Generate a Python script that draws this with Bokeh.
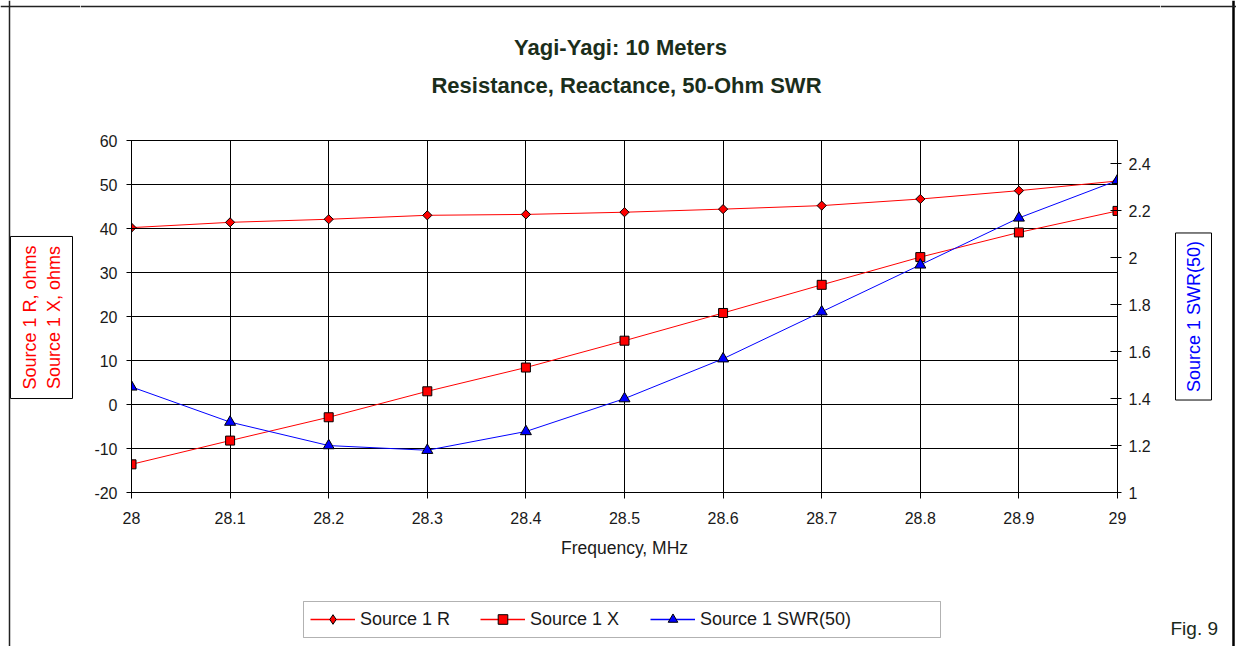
import math
from bokeh.plotting import figure
from bokeh.layouts import column, row
from bokeh.models import (Range1d, LinearAxis, FixedTicker, CustomJSTickFormatter,
                          Label, Legend, LegendItem, BoxAnnotation, Span)
from bokeh.embed import file_html
from bokeh.resources import INLINE

# ---- data ----
freq = [28.0, 28.1, 28.2, 28.3, 28.4, 28.5, 28.6, 28.7, 28.8, 28.9, 29.0]
src_r = [40.2, 41.4, 42.1, 43.0, 43.2, 43.7, 44.4, 45.2, 46.7, 48.6, 50.8]
src_x = [-13.6, -8.2, -2.9, 3.0, 8.4, 14.5, 20.8, 27.2, 33.5, 39.1, 44.0]
swr = [1.45, 1.30, 1.20, 1.18, 1.26, 1.40, 1.57, 1.77, 1.97, 2.17, 2.33]

x_ticks = [28.0, 28.1, 28.2, 28.3, 28.4, 28.5, 28.6, 28.7, 28.8, 28.9, 29.0]
left_ticks = [-20, -10, 0, 10, 20, 30, 40, 50, 60]
right_ticks = [1.0, 1.2, 1.4, 1.6, 1.8, 2.0, 2.2, 2.4]

title1 = "Yagi-Yagi: 10 Meters"
title2 = "Resistance, Reactance, 50-Ohm SWR"
left_label = "Source 1 R, ohms\nSource 1 X, ohms"
right_label = "Source 1 SWR(50)"
x_label = "Frequency, MHz"
fig_note = "Fig. 9"
names = ["Source 1 R", "Source 1 X", "Source 1 SWR(50)"]

FONT = "Liberation Sans"
TEXT = "#1a1a1a"
BORDER = "#222222"
RED, BLUE = "#ff0000", "#0000ff"
TOTAL_W, TOTAL_H = 1236, 646
TOP_H, MID_H = 120, 460
BOT_H = TOTAL_H - TOP_H - MID_H
LEFT_W, RIGHT_W = 80, 76
MAIN_W = TOTAL_W - LEFT_W - RIGHT_W
# frame edges in page pixels
FL, FR, FT, FB = 131, 1117, 140, 492


def aux_fig(w, h):
    f = figure(width=w, height=h, output_backend="svg", toolbar_location=None, title=None,
               x_range=Range1d(0, 1), y_range=Range1d(0, 1),
               x_axis_location=None, y_axis_location=None, min_border=0)
    f.xgrid.visible = False
    f.ygrid.visible = False
    f.outline_line_color = None
    f.background_fill_color = "white"
    f.border_fill_color = "white"
    return f


def vspan(f, x, w=1.5, color=BORDER):
    f.add_layout(Span(location=x, location_units="screen", dimension="height",
                      line_color=color, line_width=w))


def hspan(f, y):
    f.add_layout(Span(location=y, location_units="screen", dimension="width",
                      line_color=BORDER, line_width=1.5))


# ---------------- main chart ----------------
p = figure(width=MAIN_W, height=MID_H, output_backend="svg", toolbar_location=None, title=None,
           x_range=Range1d(28, 29), y_range=Range1d(-20, 60),
           min_border_left=FL - LEFT_W, min_border_right=LEFT_W + MAIN_W - FR,
           min_border_top=FT - TOP_H, min_border_bottom=TOP_H + MID_H - FB)
p.extra_y_ranges = {"swr": Range1d(1, 2.5)}
p.background_fill_color = "white"
p.border_fill_color = "white"
p.outline_line_color = "black"
p.outline_line_width = 1

fmt = "return String(Math.round(tick*100)/100)"


def style_axis(ax, tin, tout, standoff):
    ax.axis_line_color = "black"
    ax.major_tick_line_color = "black"
    ax.minor_tick_line_color = None
    ax.major_tick_in = tin
    ax.major_tick_out = tout
    ax.major_label_standoff = standoff
    ax.major_label_text_font = FONT
    ax.major_label_text_font_size = "16px"
    ax.major_label_text_color = TEXT
    ax.formatter = CustomJSTickFormatter(code=fmt)


p.xaxis.ticker = FixedTicker(ticks=x_ticks)
style_axis(p.xaxis[0], 0, 6, 13)
p.xaxis.axis_label = x_label
p.xaxis.axis_label_text_font = FONT
p.xaxis.axis_label_text_font_size = "17.5px"
p.xaxis.axis_label_text_font_style = "normal"
p.xaxis.axis_label_text_color = TEXT
p.xaxis.axis_label_standoff = 11

p.yaxis.ticker = FixedTicker(ticks=left_ticks)
style_axis(p.yaxis[0], 6, 5, 9)

raxis = LinearAxis(y_range_name="swr", ticker=FixedTicker(ticks=right_ticks))
style_axis(raxis, 7, 4, 7)
p.add_layout(raxis, "right")

p.xgrid.ticker = FixedTicker(ticks=x_ticks)
p.ygrid.ticker = FixedTicker(ticks=left_ticks)
for g in (p.xgrid[0], p.ygrid[0]):
    g.grid_line_color = "black"
    g.grid_line_width = 1

R_STYLE = dict(marker="square", size=6.5, angle=math.pi / 4, fill_color=RED, line_color="black", line_width=1)
X_STYLE = dict(marker="square", size=9, fill_color=RED, line_color="black", line_width=1)
S_STYLE = dict(marker="triangle", size=11, fill_color=BLUE, line_color="black", line_width=1)

p.line(freq, src_r, line_color=RED, line_width=1)
p.scatter(freq, src_r, **R_STYLE)
p.line(freq, src_x, line_color=RED, line_width=1)
p.scatter(freq, src_x, **X_STYLE)
p.line(freq, swr, line_color=BLUE, line_width=1, y_range_name="swr")
p.scatter(freq, swr, y_range_name="swr", **S_STYLE)

# ---------------- top strip: titles ----------------
top = aux_fig(MAIN_W, TOP_H)
TITLE_COLOR = "#1b2e1b"
top.add_layout(Label(x=620 - LEFT_W, y=TOP_H - 47, x_units="screen", y_units="screen", text=title1,
                     text_font=FONT, text_font_size="22px", text_font_style="bold",
                     text_color=TITLE_COLOR, text_align="center", text_baseline="middle"))
top.add_layout(Label(x=626 - LEFT_W, y=TOP_H - 85, x_units="screen", y_units="screen", text=title2,
                     text_font=FONT, text_font_size="22px", text_font_style="bold",
                     text_color=TITLE_COLOR, text_align="center", text_baseline="middle"))
hspan(top, TOP_H - 6)

# ---------------- bottom strip: legend ----------------
# legend swatches use the same series; this strip's ranges keep the marks out of view
bot = aux_fig(MAIN_W, BOT_H)
by0 = TOP_H + MID_H  # page y of the bottom strip's top edge
lr = bot.line(freq, src_r, line_color=RED, line_width=1.5)
mr = bot.scatter(freq, src_r, marker="diamond", size=10, fill_color=RED, line_color="black", line_width=1)
lx = bot.line(freq, src_x, line_color=RED, line_width=1.5)
mx = bot.scatter(freq, src_x, **X_STYLE)
ls = bot.line(freq, swr, line_color=BLUE, line_width=1.5)
ms = bot.scatter(freq, swr, **S_STYLE)
legend = Legend(items=[LegendItem(label=names[0], renderers=[lr, mr]),
                       LegendItem(label=names[1], renderers=[lx, mx]),
                       LegendItem(label=names[2], renderers=[ls, ms])],
                orientation="horizontal", location=(304 - LEFT_W, BOT_H - (637 - by0)),
                border_line_alpha=0, background_fill_alpha=0,
                label_text_font=FONT, label_text_font_size="18px", label_text_color=TEXT,
                glyph_width=45, glyph_height=24, label_standoff=5, spacing=25,
                padding=6, label_width=95, margin=0)
bot.add_layout(legend, "center")
bot.add_layout(BoxAnnotation(left=303 - LEFT_W, right=940 - LEFT_W,
                             top=BOT_H - (601 - by0), bottom=BOT_H - (637 - by0),
                             left_units="screen", right_units="screen", top_units="screen",
                             bottom_units="screen", fill_alpha=0, line_color="black", line_width=1))

# ---------------- left column: R / X axis title box ----------------
left = aux_fig(LEFT_W, TOTAL_H)
left.add_layout(Label(x=41, y=TOTAL_H - 317, x_units="screen", y_units="screen", text=left_label,
                      text_font=FONT, text_font_size="18px", text_color=RED,
                      text_align="center", text_baseline="middle", angle=90, angle_units="deg",
                      background_fill_color="white", border_line_color="black", padding=9))
vspan(left, 9)
hspan(left, TOTAL_H - 6)

# ---------------- right column: SWR axis title box and figure number ----------------
rx0 = LEFT_W + MAIN_W  # page x of the right column
right = aux_fig(RIGHT_W, TOTAL_H)
right.add_layout(Label(x=1193 - rx0, y=TOTAL_H - 316, x_units="screen", y_units="screen",
                       text=right_label, text_font=FONT, text_font_size="18px", text_color=BLUE,
                       text_align="center", text_baseline="middle", angle=90, angle_units="deg",
                       background_fill_color="white", border_line_color="black", padding=8))
right.add_layout(Label(x=1170 - rx0, y=TOTAL_H - 628, x_units="screen", y_units="screen", text=fig_note,
                       text_font=FONT, text_font_size="19px", text_color="#1a2a1a",
                       text_align="left", text_baseline="middle"))
vspan(right, 1233 - rx0, w=2.5, color="black")
hspan(right, TOTAL_H - 6)

layout = row(left, column(row(top), p, row(bot), spacing=0), right, spacing=0)
open("out.html", "w").write(file_html(layout, INLINE))
